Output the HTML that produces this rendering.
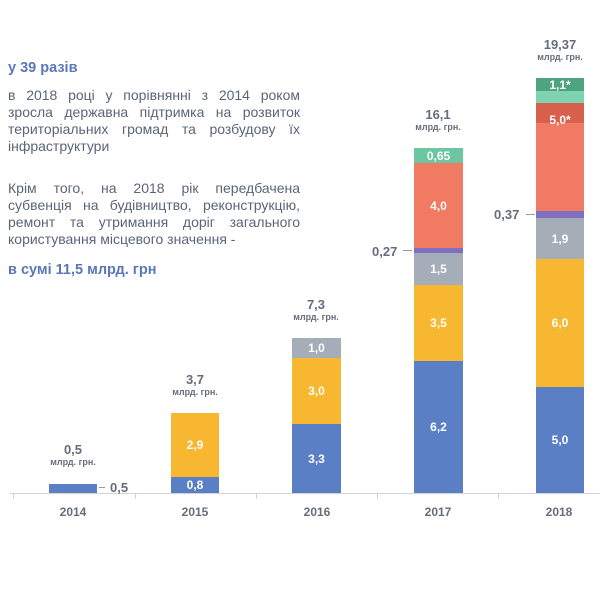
<!DOCTYPE html>
<html><head><meta charset="utf-8"><style>
body{margin:0;width:600px;height:600px;background:#fff;position:relative;overflow:hidden;font-family:"Liberation Sans",sans-serif}
.a{position:absolute}
.t{color:#5b6478;font-size:14px;line-height:17px;width:292px;left:8px}
.t div{text-align:justify;text-align-last:justify;white-space:nowrap}
.t div.l{text-align-last:left}
.h{color:#5a78b8;font-weight:bold;font-size:14.5px;left:8px}
.s{position:absolute;color:#fff;font-weight:bold;font-size:12px;text-align:center;display:flex;align-items:center;justify-content:center}
.lab{position:absolute;text-align:center;color:#666d7a;font-weight:bold;width:90px}
.lab b{display:block;font-size:13px}
.lab i{display:block;font-style:normal;font-size:9px}
.yr{position:absolute;top:505px;width:60px;text-align:center;font-size:12px;font-weight:bold;color:#666d7a}
</style></head><body>
<div class="a h" style="top:60px">у 39 разів</div>
<div class="a t" style="top:87px"><div>в 2018 році у порівнянні з 2014 роком</div><div>зросла державна підтримка на розвиток</div><div>територіальних громад та розбудову їх</div><div class="l">інфраструктури</div></div>
<div class="a t" style="top:180px"><div>Крім того, на 2018 рік передбачена</div><div>субвенція на будівництво, реконструкцію,</div><div>ремонт та утримання доріг загального</div><div class="l">користування місцевого значення -</div></div>
<div class="a h" style="top:262px">в сумі 11,5 млрд. грн</div>

<div class="a" style="left:10px;top:493px;width:590px;height:1px;background:#d0d3d8"></div>
<div class="a" style="left:13px;top:493px;width:1px;height:6px;background:#d0d3d8"></div>
<div class="a" style="left:135px;top:493px;width:1px;height:6px;background:#d0d3d8"></div>
<div class="a" style="left:256px;top:493px;width:1px;height:6px;background:#d0d3d8"></div>
<div class="a" style="left:377px;top:493px;width:1px;height:6px;background:#d0d3d8"></div>
<div class="a" style="left:498px;top:493px;width:1px;height:6px;background:#d0d3d8"></div>

<!-- 2014 -->
<div class="s" style="left:49px;top:484px;width:48px;height:9px;background:#5b7fc4"></div>
<div class="a" style="left:99px;top:487px;width:6px;height:1px;background:#999"></div>
<div class="a" style="left:110px;top:480px;font-size:13px;font-weight:bold;color:#666d7a">0,5</div>
<div class="lab" style="left:28px;top:442px"><b>0,5</b><i>млрд. грн.</i></div>
<!-- 2015 -->
<div class="s" style="left:171px;top:477px;width:48px;height:16px;background:#5b7fc4">0,8</div>
<div class="s" style="left:171px;top:413px;width:48px;height:64px;background:#f7b731">2,9</div>
<div class="lab" style="left:150px;top:372px"><b>3,7</b><i>млрд. грн.</i></div>
<!-- 2016 -->
<div class="s" style="left:292px;top:424px;width:49px;height:69px;background:#5b7fc4">3,3</div>
<div class="s" style="left:292px;top:358px;width:49px;height:66px;background:#f7b731">3,0</div>
<div class="s" style="left:292px;top:338px;width:49px;height:20px;background:#a5adb8">1,0</div>
<div class="lab" style="left:271px;top:297px"><b>7,3</b><i>млрд. грн.</i></div>
<!-- 2017 -->
<div class="s" style="left:414px;top:361px;width:49px;height:132px;background:#5b7fc4">6,2</div>
<div class="s" style="left:414px;top:285px;width:49px;height:76px;background:#f7b731">3,5</div>
<div class="s" style="left:414px;top:253px;width:49px;height:32px;background:#a5adb8">1,5</div>
<div class="s" style="left:414px;top:248px;width:49px;height:5px;background:#7e6fc0"></div>
<div class="s" style="left:414px;top:163px;width:49px;height:85px;background:#f07a62">4,0</div>
<div class="s" style="left:414px;top:148px;width:49px;height:15px;background:#6cc6a0">0,65</div>
<div class="a" style="left:403px;top:250px;width:9px;height:1px;background:#999"></div>
<div class="a" style="left:372px;top:244px;font-size:13px;font-weight:bold;color:#666d7a">0,27</div>
<div class="lab" style="left:393px;top:107px"><b>16,1</b><i>млрд. грн.</i></div>
<!-- 2018 -->
<div class="s" style="left:536px;top:387px;width:48px;height:106px;background:#5b7fc4">5,0</div>
<div class="s" style="left:536px;top:259px;width:48px;height:128px;background:#f7b731">6,0</div>
<div class="s" style="left:536px;top:218px;width:48px;height:41px;background:#a5adb8">1,9</div>
<div class="s" style="left:536px;top:211px;width:48px;height:7px;background:#7e6fc0"></div>
<div class="s" style="left:536px;top:103px;width:48px;height:108px;background:#f07a62"></div>
<div class="s" style="left:536px;top:103px;width:48px;height:20px;background:#d9604d"></div>
<div class="s" style="left:536px;top:110px;width:48px;height:20px;">5,0*</div>
<div class="s" style="left:536px;top:78px;width:48px;height:25px;background:#7fd3b0"></div>
<div class="s" style="left:536px;top:78px;width:48px;height:13px;background:#4fa37f">1,1*</div>
<div class="a" style="left:526px;top:214px;width:9px;height:1px;background:#999"></div>
<div class="a" style="left:494px;top:207px;font-size:13px;font-weight:bold;color:#666d7a">0,37</div>
<div class="lab" style="left:515px;top:37px"><b>19,37</b><i>млрд. грн.</i></div>

<div class="yr" style="left:43px">2014</div>
<div class="yr" style="left:165px">2015</div>
<div class="yr" style="left:287px">2016</div>
<div class="yr" style="left:408px">2017</div>
<div class="yr" style="left:529px">2018</div>
</body></html>
